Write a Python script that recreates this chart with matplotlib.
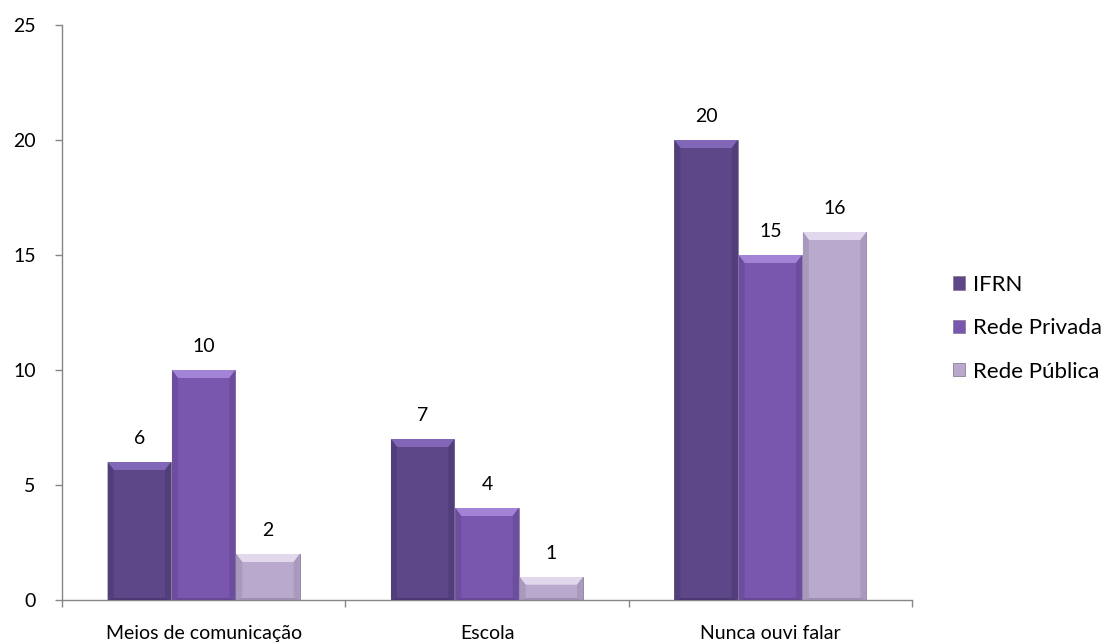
import matplotlib
matplotlib.use("Agg")
import matplotlib.pyplot as plt
import numpy as np
from matplotlib.patches import Polygon

plt.rcParams['font.family'] = ['Lato', 'DejaVu Sans']

categories = ["Meios de comunicação", "Escola", "Nunca ouvi falar"]
series_names = ["IFRN", "Rede Privada", "Rede Pública"]
ifrn = [6, 7, 20]
privada = [10, 4, 15]
publica = [2, 1, 16]
yticks = [0, 5, 10, 15, 20, 25]

series = [ifrn, privada, publica]
main_colors = ["#5d4788", "#7a57ae", "#b9aacd"]
top_colors = ["#8266b8", "#a283d6", "#e2d8ee"]
side_colors = ["#523e7a", "#6d4d9e", "#a899bd"]
bottom_colors = ["#4c3872", "#664894", "#9d8fb2"]

fig = plt.figure(figsize=(11.2, 6.44), dpi=100)
ax = fig.add_axes([62/1120, 1-600/644, 850/1120, 575/644])

x = np.arange(len(categories))
width = 0.224
offsets = [-0.227, 0.0, 0.227]

# bevel sizes (pixels -> data units)
px_x = 6 / 283.3
px_y = 25 / 575 * 8
px_b = 25 / 575 * 2

for s, vals in enumerate(series):
    bars = ax.bar(x + offsets[s], vals, width, color=main_colors[s], zorder=2,
                  label=series_names[s], edgecolor='#8a7f99', linewidth=0.6)
    for b in bars:
        x0, w, h = b.get_x(), b.get_width(), b.get_height()
        x1 = x0 + w
        bx = min(px_x, w / 4)
        by = min(px_y, h / 3)
        bb = min(px_b, h / 6)
        ax.add_patch(Polygon([[x0, h], [x1, h], [x1 - bx, h - by], [x0 + bx, h - by]],
                             closed=True, color=top_colors[s], zorder=3, lw=0))
        ax.add_patch(Polygon([[x0, 0], [x0, h], [x0 + bx, h - by], [x0 + bx, bb]],
                             closed=True, color=side_colors[s], zorder=3, lw=0))
        ax.add_patch(Polygon([[x1, 0], [x1, h], [x1 - bx, h - by], [x1 - bx, bb]],
                             closed=True, color=side_colors[s], zorder=3, lw=0))
        ax.add_patch(Polygon([[x0, 0], [x1, 0], [x1 - bx, bb], [x0 + bx, bb]],
                             closed=True, color=bottom_colors[s], zorder=3, lw=0))
        ax.text(x0 + w / 2, h + 0.65, f"{h:g}", ha='center', va='bottom',
                fontsize=14, color='black')

ax.set_xlim(-0.5, len(categories) - 0.5)
ax.set_ylim(0, 25)
ax.set_yticks(yticks)
ax.set_xticks(x)
ax.set_xticklabels(categories, fontsize=14)
ax.set_xticks(np.arange(len(categories) + 1) - 0.5, minor=True)
ax.tick_params(axis='x', which='major', length=0, pad=18)
ax.tick_params(axis='x', which='minor', length=5, color='#868686', width=1)
ax.tick_params(axis='y', length=5, color='#868686', width=1, labelsize=14, pad=14)
for sp in ['top', 'right']:
    ax.spines[sp].set_visible(False)
for sp in ['left', 'bottom']:
    ax.spines[sp].set_color('#868686')
    ax.spines[sp].set_linewidth(1)

leg = ax.legend(loc='upper left', bbox_to_anchor=(944/1120, 1 - 266/644),
                bbox_transform=fig.transFigure, frameon=False, fontsize=16,
                handlelength=0.55, handleheight=0.55, handletextpad=0.35,
                labelspacing=1.05, borderaxespad=0)

fig.savefig("out.png", dpi=100)
